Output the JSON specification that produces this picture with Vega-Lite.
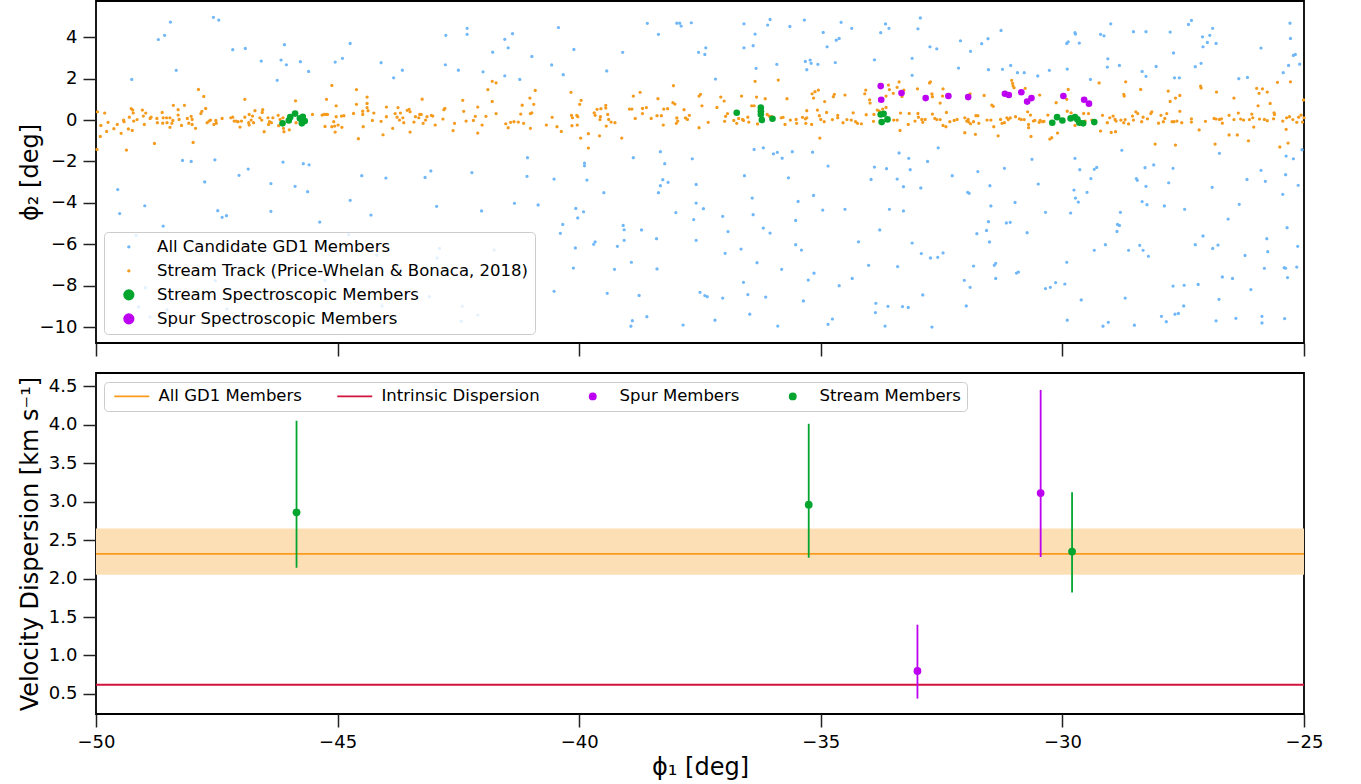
{
  "$schema": "https://vega.github.io/schema/vega-lite/v6.json",
  "padding": {"left": 17, "top": 0, "right": 5, "bottom": 5},
  "spacing": 14,
  "background": "white",
  "config": {
    "font": "DejaVu Sans",
    "view": {"stroke": "#000", "strokeWidth": 1.8},
    "axis": {"domain": false, "grid": false, "tickColor": "#222", "tickWidth": 1.5, "tickSize": 13, "labelFont": "DejaVu Sans", "labelFontSize": 18, "labelColor": "#000", "titleFont": "DejaVu Sans", "titleFontSize": 24, "titleFontWeight": "normal", "titleColor": "#000", "labelPadding": 6, "labelFlush": false, "labelOverlap": false},
    "legend": {"labelFont": "DejaVu Sans", "labelColor": "#000", "labelLimit": 0}
  },
  "datasets": {
    "top": [
      {"s":"b","x":-48.46,"y":4.73},{"s":"b","x":-48.71,"y":3.89},{"s":"b","x":-48.58,"y":4.09},{"s":"b","x":-49.26,"y":1.96},{"s":"b","x":-48.34,"y":2.4},{"s":"b","x":-47.57,"y":4.96},{"s":"b","x":-47.46,"y":4.83},{"s":"b","x":-47.17,"y":3.4},{"s":"b","x":-46.91,"y":3.46},{"s":"b","x":-46.58,"y":2.85},{"s":"b","x":-46.25,"y":1.92},{"s":"b","x":-46.1,"y":3.64},{"s":"b","x":-46.17,"y":2.9},{"s":"b","x":-46.06,"y":2.67},{"s":"b","x":-45.77,"y":2.82},{"s":"b","x":-45.6,"y":2.35},{"s":"b","x":-45.05,"y":2.8},{"s":"b","x":-44.9,"y":2.98},{"s":"b","x":-44.74,"y":3.7},{"s":"b","x":-44.1,"y":2.77},{"s":"b","x":-43.84,"y":2.04},{"s":"b","x":-43.66,"y":2.41},{"s":"b","x":-42.77,"y":2.67},{"s":"b","x":-42.76,"y":4.09},{"s":"b","x":-42.5,"y":2.41},{"s":"b","x":-42.32,"y":4.43},{"s":"b","x":-42.32,"y":4.14},{"s":"b","x":-41.99,"y":2.33},{"s":"b","x":-41.79,"y":3.28},
      {"s":"b","x":-41.54,"y":3.9},{"s":"b","x":-41.38,"y":4.17},{"s":"b","x":-41.47,"y":3.49},{"s":"b","x":-41.54,"y":2.14},{"s":"b","x":-41.23,"y":1.96},{"s":"b","x":-40.98,"y":3.07},{"s":"b","x":-40.43,"y":4.47},{"s":"b","x":-40.57,"y":2.66},{"s":"b","x":-40.33,"y":2.19},{"s":"b","x":-40.11,"y":3.41},{"s":"b","x":-39.43,"y":2.37},{"s":"b","x":-39.1,"y":3.27},{"s":"b","x":-38.59,"y":4.67},{"s":"b","x":-38.36,"y":4.14},{"s":"b","x":-37.98,"y":4.68},{"s":"b","x":-37.92,"y":4.68},{"s":"b","x":-37.89,"y":4.54},{"s":"b","x":-37.68,"y":4.7},{"s":"b","x":-37.53,"y":3.27},{"s":"b","x":-37.4,"y":3.17},{"s":"b","x":-37.38,"y":3.49},{"s":"b","x":-37.18,"y":1.98},{"s":"b","x":-36.59,"y":4.65},{"s":"b","x":-36.59,"y":3.49},{"s":"b","x":-36.4,"y":3.59},{"s":"b","x":-36.36,"y":4.15},{"s":"b","x":-36.34,"y":2.5},{"s":"b","x":-36.1,"y":4.59},{"s":"b","x":-36.05,"y":4.86},{"s":"b","x":-35.91,"y":2.69},{"s":"b","x":-35.64,"y":4.52},{"s":"b","x":-35.34,"y":4.83},{"s":"b","x":-35.32,"y":2.83},{"s":"b","x":-35.29,"y":2.43},{"s":"b","x":-35.22,"y":2.9},{"s":"b","x":-35.2,"y":2.74},{"s":"b","x":-35.06,"y":2.69},{"s":"b","x":-34.95,"y":4.23},{"s":"b","x":-34.87,"y":3.54},{"s":"b","x":-34.7,"y":2.78},{"s":"b","x":-34.68,"y":3.86},{"s":"b","x":-34.62,"y":3.94},{"s":"b","x":-34.58,"y":4.72},{"s":"b","x":-34.36,"y":4.43},{"s":"b","x":-33.89,"y":2.91},{"s":"b","x":-33.76,"y":4.22},{"s":"b","x":-33.66,"y":4.64},{"s":"b","x":-33.59,"y":4.43},{"s":"b","x":-36.38,"y":-1.42},{"s":"b","x":-36.19,"y":-1.34},
      {"s":"b","x":-32.94,"y":4.93},{"s":"b","x":-32.99,"y":4.41},{"s":"b","x":-33.11,"y":2.98},{"s":"b","x":-33.11,"y":2.16},{"s":"b","x":-32.74,"y":3.54},{"s":"b","x":-32.6,"y":3.44},{"s":"b","x":-32.11,"y":3.83},{"s":"b","x":-31.9,"y":3.32},{"s":"b","x":-31.67,"y":3.69},{"s":"b","x":-31.54,"y":3.93},{"s":"b","x":-31.27,"y":4.33},{"s":"b","x":-32.15,"y":2.51},{"s":"b","x":-31.53,"y":2.43},{"s":"b","x":-31.24,"y":2.45},{"s":"b","x":-31.07,"y":2.64},{"s":"b","x":-30.93,"y":2.29},{"s":"b","x":-30.79,"y":2.29},{"s":"b","x":-30.51,"y":2.13},{"s":"b","x":-30.27,"y":2.4},{"s":"b","x":-29.9,"y":2.46},{"s":"b","x":-29.91,"y":3.7},{"s":"b","x":-29.88,"y":3.78},{"s":"b","x":-29.74,"y":4.22},{"s":"b","x":-29.73,"y":4.15},{"s":"b","x":-29.65,"y":3.72},{"s":"b","x":-29.42,"y":1.96},{"s":"b","x":-29.21,"y":4.14},{"s":"b","x":-29.14,"y":4.07},{"s":"b","x":-29.0,"y":4.65},{"s":"b","x":-29.06,"y":2.96},{"s":"b","x":-29.07,"y":2.56},{"s":"b","x":-28.82,"y":2.64},{"s":"b","x":-28.53,"y":4.27},{"s":"b","x":-28.27,"y":4.27},{"s":"b","x":-28.35,"y":2.35},{"s":"b","x":-28.27,"y":2.11},{"s":"b","x":-28.06,"y":2.59},{"s":"b","x":-27.77,"y":4.25},{"s":"b","x":-27.7,"y":3.24},{"s":"b","x":-27.68,"y":2.04},{"s":"b","x":-27.58,"y":2.04},{"s":"b","x":-27.39,"y":4.62},{"s":"b","x":-27.33,"y":4.81},{"s":"b","x":-27.25,"y":2.58},{"s":"b","x":-27.13,"y":2.74},{"s":"b","x":-27.1,"y":4.02},{"s":"b","x":-27.09,"y":3.54},{"s":"b","x":-27.0,"y":3.75},{"s":"b","x":-26.95,"y":4.09},{"s":"b","x":-26.89,"y":4.43},{"s":"b","x":-26.82,"y":3.7},{"s":"b","x":-26.35,"y":2.0},{"s":"b","x":-26.17,"y":2.06},{"s":"b","x":-25.89,"y":3.48},{"s":"b","x":-25.43,"y":2.29},{"s":"b","x":-25.32,"y":2.64},{"s":"b","x":-25.29,"y":4.68},{"s":"b","x":-25.28,"y":3.94},{"s":"b","x":-25.22,"y":3.12},{"s":"b","x":-25.18,"y":3.17},{"s":"b","x":-25.09,"y":2.7},{"s":"b","x":-25.04,"y":-1.43},{"s":"b","x":-28.77,"y":-1.46},{"s":"b","x":-32.57,"y":-1.34},
      {"s":"b","x":-48.21,"y":-1.95},{"s":"b","x":-48.03,"y":-2.0},{"s":"b","x":-47.54,"y":-1.92},{"s":"b","x":-46.13,"y":-2.03},{"s":"b","x":-45.71,"y":-2.11},{"s":"b","x":-45.59,"y":-2.16},{"s":"b","x":-46.85,"y":-2.37},{"s":"b","x":-47.04,"y":-2.67},{"s":"b","x":-47.75,"y":-2.99},{"s":"b","x":-46.38,"y":-3.07},{"s":"b","x":-45.88,"y":-3.2},{"s":"b","x":-45.62,"y":-3.46},{"s":"b","x":-49.55,"y":-3.36},{"s":"b","x":-48.99,"y":-4.14},{"s":"b","x":-49.51,"y":-4.52},{"s":"b","x":-47.48,"y":-4.38},{"s":"b","x":-47.39,"y":-4.7},{"s":"b","x":-47.3,"y":-4.62},{"s":"b","x":-46.38,"y":-4.41},{"s":"b","x":-45.37,"y":-4.93},{"s":"b","x":-48.61,"y":-5.12},{"s":"b","x":-44.74,"y":-3.88},{"s":"b","x":-44.5,"y":-2.69},{"s":"b","x":-44.0,"y":-2.8},{"s":"b","x":-43.19,"y":-2.77},{"s":"b","x":-43.07,"y":-2.46},{"s":"b","x":-42.22,"y":-2.54},{"s":"b","x":-42.95,"y":-4.17},{"s":"b","x":-44.31,"y":-4.59},{"s":"b","x":-42.02,"y":-4.39},
      {"s":"b","x":-49.17,"y":-5.57},{"s":"b","x":-44.77,"y":-5.54},{"s":"b","x":-42.89,"y":-6.2},{"s":"b","x":-42.94,"y":-6.66},{"s":"b","x":-41.76,"y":-6.28},{"s":"b","x":-44.19,"y":-6.53},{"s":"b","x":-47.53,"y":-7.76},{"s":"b","x":-48.98,"y":-8.1},{"s":"b","x":-48.53,"y":-9.16},{"s":"b","x":-47.29,"y":-9.13},{"s":"b","x":-48.88,"y":-9.51},{"s":"b","x":-42.42,"y":-9.0},{"s":"b","x":-44.08,"y":-8.98},{"s":"b","x":-42.1,"y":-9.42},{"s":"b","x":-42.44,"y":-9.72},{"s":"b","x":-45.26,"y":-7.74},{"s":"b","x":-43.1,"y":-8.53},{"s":"b","x":-49.12,"y":-9.03},
      {"s":"b","x":-41.07,"y":-1.82},{"s":"b","x":-39.89,"y":-2.08},{"s":"b","x":-39.89,"y":-2.21},{"s":"b","x":-38.88,"y":-1.82},{"s":"b","x":-38.32,"y":-1.53},{"s":"b","x":-37.66,"y":-1.87},{"s":"b","x":-38.23,"y":-2.11},{"s":"b","x":-41.08,"y":-2.72},{"s":"b","x":-40.52,"y":-2.85},{"s":"b","x":-39.84,"y":-2.9},{"s":"b","x":-39.49,"y":-3.51},{"s":"b","x":-38.27,"y":-2.88},{"s":"b","x":-38.32,"y":-3.17},{"s":"b","x":-38.16,"y":-3.01},{"s":"b","x":-38.36,"y":-3.51},{"s":"b","x":-37.58,"y":-3.11},{"s":"b","x":-36.58,"y":-2.69},{"s":"b","x":-35.98,"y":-1.63},{"s":"b","x":-35.9,"y":-1.56},{"s":"b","x":-35.8,"y":-1.84},{"s":"b","x":-35.59,"y":-1.53},{"s":"b","x":-35.17,"y":-1.55},{"s":"b","x":-34.85,"y":-2.22},{"s":"b","x":-33.89,"y":-2.27},{"s":"b","x":-33.64,"y":-2.35},{"s":"b","x":-33.96,"y":-2.87},{"s":"b","x":-33.42,"y":-2.85},{"s":"b","x":-33.38,"y":-1.59},{"s":"b","x":-41.34,"y":-4.02},{"s":"b","x":-40.85,"y":-4.1},{"s":"b","x":-40.07,"y":-4.27},{"s":"b","x":-39.91,"y":-4.43},{"s":"b","x":-40.03,"y":-4.73},{"s":"b","x":-40.34,"y":-5.04},{"s":"b","x":-40.39,"y":-5.47},{"s":"b","x":-38.0,"y":-4.47},{"s":"b","x":-37.58,"y":-4.01},{"s":"b","x":-37.43,"y":-4.28},{"s":"b","x":-37.63,"y":-4.81},{"s":"b","x":-37.03,"y":-4.65},{"s":"b","x":-36.92,"y":-5.39},{"s":"b","x":-36.42,"y":-3.77},{"s":"b","x":-36.4,"y":-4.57},{"s":"b","x":-36.19,"y":-5.22},{"s":"b","x":-36.05,"y":-5.46},{"s":"b","x":-35.67,"y":-2.79},{"s":"b","x":-35.47,"y":-3.93},{"s":"b","x":-35.15,"y":-3.64},{"s":"b","x":-34.96,"y":-4.35},{"s":"b","x":-34.5,"y":-4.31},{"s":"b","x":-33.58,"y":-4.31},{"s":"b","x":-35.52,"y":-4.85},{"s":"b","x":-33.78,"y":-5.31},{"s":"b","x":-34.22,"y":-5.88},{"s":"b","x":-39.09,"y":-5.09},{"s":"b","x":-39.07,"y":-5.3},{"s":"b","x":-38.71,"y":-5.31},{"s":"b","x":-38.4,"y":-5.73},{"s":"b","x":-40.08,"y":-6.18},{"s":"b","x":-39.7,"y":-6.0},{"s":"b","x":-39.67,"y":-5.88},{"s":"b","x":-39.21,"y":-6.1},{"s":"b","x":-39.07,"y":-5.81},{"s":"b","x":-37.58,"y":-5.81},{"s":"b","x":-36.98,"y":-6.44},{"s":"b","x":-36.65,"y":-6.23},{"s":"b","x":-36.32,"y":-6.89},{"s":"b","x":-35.52,"y":-6.02},{"s":"b","x":-35.4,"y":-6.28},{"s":"b","x":-40.12,"y":-7.15},{"s":"b","x":-39.27,"y":-7.21},{"s":"b","x":-38.92,"y":-6.87},{"s":"b","x":-38.39,"y":-7.19},{"s":"b","x":-35.81,"y":-7.21},{"s":"b","x":-35.14,"y":-7.4},{"s":"b","x":-35.26,"y":-7.73},{"s":"b","x":-34.35,"y":-7.65},{"s":"b","x":-34.01,"y":-7.02},{"s":"b","x":-33.41,"y":-7.08},{"s":"b","x":-34.62,"y":-8.0},{"s":"b","x":-40.52,"y":-8.27},{"s":"b","x":-39.42,"y":-8.37},{"s":"b","x":-38.76,"y":-8.47},{"s":"b","x":-37.5,"y":-8.32},{"s":"b","x":-37.4,"y":-8.48},{"s":"b","x":-37.35,"y":-8.53},{"s":"b","x":-37.03,"y":-8.6},{"s":"b","x":-36.6,"y":-7.84},{"s":"b","x":-36.51,"y":-8.43},{"s":"b","x":-36.14,"y":-8.55},{"s":"b","x":-35.36,"y":-8.74},{"s":"b","x":-33.86,"y":-8.85},{"s":"b","x":-33.61,"y":-9.0},{"s":"b","x":-33.87,"y":-9.3},{"s":"b","x":-38.6,"y":-9.5},{"s":"b","x":-38.9,"y":-9.69},{"s":"b","x":-38.93,"y":-9.96},{"s":"b","x":-37.85,"y":-9.9},{"s":"b","x":-37.19,"y":-9.67},{"s":"b","x":-36.47,"y":-9.38},{"s":"b","x":-35.89,"y":-9.95},{"s":"b","x":-34.85,"y":-9.87},{"s":"b","x":-34.76,"y":-9.61},{"s":"b","x":-33.67,"y":-9.95},
      {"s":"b","x":-33.18,"y":-1.85},{"s":"b","x":-32.79,"y":-2.0},{"s":"b","x":-33.15,"y":-2.4},{"s":"b","x":-33.29,"y":-3.22},{"s":"b","x":-32.93,"y":-3.28},{"s":"b","x":-33.29,"y":-4.39},{"s":"b","x":-32.28,"y":-2.69},{"s":"b","x":-31.75,"y":-2.49},{"s":"b","x":-31.2,"y":-2.33},{"s":"b","x":-30.63,"y":-1.9},{"s":"b","x":-31.96,"y":-3.49},{"s":"b","x":-31.93,"y":-3.54},{"s":"b","x":-31.5,"y":-3.17},{"s":"b","x":-30.98,"y":-3.98},{"s":"b","x":-31.48,"y":-4.15},{"s":"b","x":-30.5,"y":-3.09},{"s":"b","x":-30.35,"y":-4.46},{"s":"b","x":-31.53,"y":-4.91},{"s":"b","x":-31.16,"y":-4.97},{"s":"b","x":-31.08,"y":-4.94},{"s":"b","x":-31.57,"y":-5.33},{"s":"b","x":-31.77,"y":-5.49},{"s":"b","x":-31.51,"y":-5.89},{"s":"b","x":-30.73,"y":-5.44},{"s":"b","x":-33.11,"y":-5.94},{"s":"b","x":-32.92,"y":-6.45},{"s":"b","x":-32.73,"y":-6.66},{"s":"b","x":-32.58,"y":-6.63},{"s":"b","x":-32.47,"y":-6.42},{"s":"b","x":-31.84,"y":-7.05},{"s":"b","x":-31.41,"y":-7.02},{"s":"b","x":-31.38,"y":-6.92},{"s":"b","x":-31.38,"y":-7.65},{"s":"b","x":-30.95,"y":-7.39},{"s":"b","x":-30.91,"y":-7.34},{"s":"b","x":-32.03,"y":-7.74},{"s":"b","x":-31.91,"y":-8.08},{"s":"b","x":-32.89,"y":-8.45},{"s":"b","x":-33.31,"y":-9.01},{"s":"b","x":-33.19,"y":-9.05},{"s":"b","x":-31.99,"y":-8.98},{"s":"b","x":-32.7,"y":-10.0},{"s":"b","x":-30.35,"y":-8.14},{"s":"b","x":-30.25,"y":-8.08},{"s":"b","x":-30.14,"y":-7.85},{"s":"b","x":-29.95,"y":-7.92},{"s":"b","x":-29.91,"y":-6.87},{"s":"b","x":-29.61,"y":-8.69},{"s":"b","x":-29.9,"y":-9.67},{"s":"b","x":-29.16,"y":-9.96},{"s":"b","x":-29.05,"y":-9.77},{"s":"b","x":-29.74,"y":-1.85},{"s":"b","x":-29.64,"y":-2.4},{"s":"b","x":-29.34,"y":-2.38},{"s":"b","x":-29.29,"y":-2.29},{"s":"b","x":-29.41,"y":-2.83},{"s":"b","x":-29.76,"y":-3.38},{"s":"b","x":-29.73,"y":-3.77},{"s":"b","x":-29.67,"y":-3.96},{"s":"b","x":-29.49,"y":-3.49},{"s":"b","x":-29.83,"y":-4.49},{"s":"b","x":-28.8,"y":-4.46},{"s":"b","x":-28.86,"y":-5.04},{"s":"b","x":-28.82,"y":-5.09},{"s":"b","x":-28.87,"y":-5.38},{"s":"b","x":-29.34,"y":-6.29},{"s":"b","x":-29.11,"y":-6.02},{"s":"b","x":-28.63,"y":-6.29},{"s":"b","x":-28.4,"y":-6.05},{"s":"b","x":-28.33,"y":-6.29},{"s":"b","x":-28.22,"y":-6.58},{"s":"b","x":-28.47,"y":-2.83},{"s":"b","x":-28.45,"y":-2.91},{"s":"b","x":-28.27,"y":-3.2},{"s":"b","x":-28.29,"y":-2.3},{"s":"b","x":-28.11,"y":-2.17},{"s":"b","x":-27.71,"y":-2.33},{"s":"b","x":-27.8,"y":-3.03},{"s":"b","x":-28.35,"y":-3.94},{"s":"b","x":-28.25,"y":-4.09},{"s":"b","x":-27.89,"y":-4.15},{"s":"b","x":-27.47,"y":-4.31},{"s":"b","x":-28.7,"y":-8.6},{"s":"b","x":-27.95,"y":-9.48},{"s":"b","x":-27.85,"y":-9.74},{"s":"b","x":-27.67,"y":-9.38},{"s":"b","x":-27.6,"y":-9.34},{"s":"b","x":-27.49,"y":-8.98},{"s":"b","x":-28.51,"y":-9.91},{"s":"b","x":-27.71,"y":-8.02},{"s":"b","x":-27.48,"y":-7.98},{"s":"b","x":-27.19,"y":-7.94},{"s":"b","x":-27.25,"y":-6.02},{"s":"b","x":-27.09,"y":-5.6},{"s":"b","x":-26.89,"y":-6.2},{"s":"b","x":-26.78,"y":-6.04},{"s":"b","x":-26.9,"y":-3.25},{"s":"b","x":-26.75,"y":-1.61},{"s":"b","x":-26.57,"y":-4.78},{"s":"b","x":-26.34,"y":-4.07},{"s":"b","x":-26.18,"y":-2.87},{"s":"b","x":-25.89,"y":-2.43},{"s":"b","x":-25.8,"y":-2.96},{"s":"b","x":-25.37,"y":-1.74},{"s":"b","x":-25.22,"y":-1.87},{"s":"b","x":-25.38,"y":-2.64},{"s":"b","x":-25.12,"y":-3.15},{"s":"b","x":-25.44,"y":-3.59},{"s":"b","x":-25.35,"y":-5.2},{"s":"b","x":-25.77,"y":-5.73},{"s":"b","x":-25.75,"y":-6.36},{"s":"b","x":-26.22,"y":-6.54},{"s":"b","x":-25.82,"y":-7.16},{"s":"b","x":-25.41,"y":-7.13},{"s":"b","x":-25.38,"y":-7.16},{"s":"b","x":-25.15,"y":-7.1},{"s":"b","x":-25.34,"y":-7.61},{"s":"b","x":-25.13,"y":-6.1},{"s":"b","x":-26.69,"y":-7.58},{"s":"b","x":-26.48,"y":-7.65},{"s":"b","x":-26.1,"y":-8.19},{"s":"b","x":-26.76,"y":-8.66},{"s":"b","x":-26.82,"y":-9.7},{"s":"b","x":-26.41,"y":-9.58},{"s":"b","x":-25.87,"y":-9.48},{"s":"b","x":-25.87,"y":-9.8},{"s":"b","x":-25.4,"y":-9.59},
      {"s":"o","x":-49.97,"y":0.4},{"s":"o","x":-49.82,"y":0.34},{"s":"o","x":-49.9,"y":-0.26},{"s":"o","x":-49.91,"y":-0.79},{"s":"o","x":-49.98,"y":-1.42},{"s":"o","x":-49.75,"y":-0.11},{"s":"o","x":-49.78,"y":-0.55},{"s":"o","x":-49.63,"y":-0.42},{"s":"o","x":-49.56,"y":-0.21},{"s":"o","x":-49.48,"y":-0.64},{"s":"o","x":-49.43,"y":0.0},{"s":"o","x":-49.42,"y":-0.08},{"s":"o","x":-49.37,"y":-1.45},{"s":"o","x":-49.33,"y":-0.43},{"s":"o","x":-49.31,"y":0.14},{"s":"o","x":-49.27,"y":0.55},{"s":"o","x":-49.24,"y":0.48},{"s":"o","x":-49.23,"y":0.34},{"s":"o","x":-49.25,"y":-0.5},{"s":"o","x":-49.22,"y":-0.05},{"s":"o","x":-49.15,"y":0.02},{"s":"o","x":-49.04,"y":0.48},{"s":"o","x":-49.02,"y":0.19},{"s":"o","x":-48.97,"y":0.34},{"s":"o","x":-49.0,"y":-0.21},{"s":"o","x":-48.88,"y":0.08},{"s":"o","x":-48.86,"y":0.14},{"s":"o","x":-48.79,"y":-1.13},{"s":"o","x":-48.74,"y":0.08},{"s":"o","x":-48.73,"y":-0.13},{"s":"o","x":-48.63,"y":0.37},{"s":"o","x":-48.61,"y":0.11},{"s":"o","x":-48.62,"y":-0.15},{"s":"o","x":-48.53,"y":-0.13},{"s":"o","x":-48.54,"y":0.11},{"s":"o","x":-48.47,"y":0.11},{"s":"o","x":-48.47,"y":-0.35},{"s":"o","x":-48.43,"y":-0.16},{"s":"o","x":-48.41,"y":-0.02},{"s":"o","x":-48.4,"y":0.71},{"s":"o","x":-48.3,"y":0.5},{"s":"o","x":-48.3,"y":0.24},{"s":"o","x":-48.28,"y":0.03},{"s":"o","x":-48.23,"y":-0.26},{"s":"o","x":-48.17,"y":0.71},{"s":"o","x":-48.11,"y":0.08},{"s":"o","x":-48.08,"y":-0.15},{"s":"o","x":-48.03,"y":0.18},{"s":"o","x":-48.01,"y":0.03},{"s":"o","x":-48.01,"y":-0.21},{"s":"o","x":-47.99,"y":-1.08},{"s":"o","x":-47.94,"y":-0.4},{"s":"o","x":-47.88,"y":1.48},{"s":"o","x":-47.83,"y":0.31},{"s":"o","x":-47.81,"y":0.42},{"s":"o","x":-47.77,"y":1.14},{"s":"o","x":-47.73,"y":0.56},{"s":"o","x":-47.7,"y":-0.13},{"s":"o","x":-47.66,"y":-0.05},{"s":"o","x":-47.63,"y":0.0},{"s":"o","x":-47.56,"y":-0.21},{"s":"o","x":-47.52,"y":-0.02},{"s":"o","x":-47.51,"y":-0.15},{"s":"o","x":-47.39,"y":0.08},{"s":"o","x":-47.21,"y":0.11},{"s":"o","x":-47.17,"y":0.14},{"s":"o","x":-47.14,"y":-0.05},{"s":"o","x":-47.1,"y":-0.05},{"s":"o","x":-47.06,"y":-0.08},{"s":"o","x":-47.02,"y":-0.34},{"s":"o","x":-46.99,"y":-0.05},{"s":"o","x":-46.92,"y":1.0},{"s":"o","x":-46.92,"y":0.14},{"s":"o","x":-46.83,"y":0.27},{"s":"o","x":-46.84,"y":-0.13},{"s":"o","x":-46.83,"y":-0.24},{"s":"o","x":-46.79,"y":0.0},{"s":"o","x":-46.76,"y":0.19},{"s":"o","x":-46.74,"y":-0.13},{"s":"o","x":-46.71,"y":0.45},{"s":"o","x":-46.61,"y":0.11},{"s":"o","x":-46.57,"y":0.0},{"s":"o","x":-46.55,"y":0.5},{"s":"o","x":-46.56,"y":0.37},{"s":"o","x":-46.52,"y":-0.56},{"s":"o","x":-46.44,"y":0.11},{"s":"o","x":-46.43,"y":-0.21},{"s":"o","x":-46.41,"y":-0.08},{"s":"o","x":-46.37,"y":-0.13},{"s":"o","x":-46.34,"y":0.11},{"s":"o","x":-46.23,"y":0.23},{"s":"o","x":-46.22,"y":-0.27},{"s":"o","x":-46.19,"y":0.03},{"s":"o","x":-46.13,"y":0.11},{"s":"o","x":-46.12,"y":-0.4},{"s":"o","x":-46.11,"y":-0.56},{"s":"o","x":-46.0,"y":-0.47},{"s":"o","x":-45.87,"y":0.93},{"s":"o","x":-45.86,"y":-0.13},{"s":"o","x":-45.52,"y":0.27},{"s":"o","x":-45.32,"y":0.24},{"s":"o","x":-45.28,"y":0.27},{"s":"o","x":-45.26,"y":-0.31},{"s":"o","x":-45.24,"y":0.27},{"s":"o","x":-45.21,"y":0.27},{"s":"o","x":-45.23,"y":1.0},{"s":"o","x":-45.12,"y":1.67},{"s":"o","x":-45.12,"y":-0.32},{"s":"o","x":-45.08,"y":-0.08},{"s":"o","x":-45.06,"y":-0.29},{"s":"o","x":-45.05,"y":-0.58},{"s":"o","x":-45.03,"y":0.69},{"s":"o","x":-45.03,"y":0.16},{"s":"o","x":-44.99,"y":-0.24},{"s":"o","x":-44.92,"y":0.19},{"s":"o","x":-44.91,"y":-0.35},{"s":"o","x":-44.87,"y":0.21},{"s":"o","x":-44.67,"y":0.32},{"s":"o","x":-44.61,"y":1.47},{"s":"o","x":-44.61,"y":0.76},{"s":"o","x":-44.57,"y":-0.9},{"s":"o","x":-44.48,"y":0.43},{"s":"o","x":-44.48,"y":0.27},{"s":"o","x":-44.47,"y":-0.32},{"s":"o","x":-44.39,"y":1.11},{"s":"o","x":-44.39,"y":0.8},{"s":"o","x":-44.39,"y":0.6},{"s":"o","x":-44.37,"y":0.45},{"s":"o","x":-44.28,"y":-0.02},{"s":"o","x":-44.25,"y":0.34},{"s":"o","x":-44.1,"y":-0.06},{"s":"o","x":-44.06,"y":-0.71},{"s":"o","x":-43.99,"y":0.63},{"s":"o","x":-43.99,"y":0.16},{"s":"o","x":-43.86,"y":-0.4},{"s":"o","x":-43.81,"y":0.31},{"s":"o","x":-43.75,"y":0.6},{"s":"o","x":-43.77,"y":0.14},{"s":"o","x":-43.72,"y":0.0},{"s":"o","x":-43.7,"y":0.34},
      {"s":"o","x":-43.65,"y":0.11},{"s":"o","x":-43.63,"y":-0.13},{"s":"o","x":-43.56,"y":0.47},{"s":"o","x":-43.52,"y":0.52},{"s":"o","x":-43.5,"y":-0.58},{"s":"o","x":-43.5,"y":0.4},{"s":"o","x":-43.42,"y":-0.1},{"s":"o","x":-43.39,"y":0.16},{"s":"o","x":-43.32,"y":0.11},{"s":"o","x":-43.3,"y":0.27},{"s":"o","x":-43.27,"y":0.27},{"s":"o","x":-43.25,"y":1.01},{"s":"o","x":-43.23,"y":-0.16},{"s":"o","x":-43.18,"y":0.0},{"s":"o","x":-43.15,"y":0.16},{"s":"o","x":-43.06,"y":0.23},{"s":"o","x":-43.03,"y":0.19},{"s":"o","x":-42.98,"y":-0.24},{"s":"o","x":-42.82,"y":0.05},{"s":"o","x":-42.8,"y":0.5},{"s":"o","x":-42.78,"y":0.56},{"s":"o","x":-42.61,"y":-0.51},{"s":"o","x":-42.58,"y":-0.16},{"s":"o","x":-42.41,"y":0.95},{"s":"o","x":-42.39,"y":0.42},{"s":"o","x":-42.34,"y":-0.05},{"s":"o","x":-42.19,"y":-0.02},{"s":"o","x":-42.15,"y":0.18},{"s":"o","x":-42.1,"y":0.63},{"s":"o","x":-42.1,"y":-0.63},{"s":"o","x":-42.01,"y":-0.24},{"s":"o","x":-41.93,"y":0.18},{"s":"o","x":-41.89,"y":1.47},{"s":"o","x":-41.8,"y":1.87},{"s":"o","x":-41.8,"y":0.9},{"s":"o","x":-41.72,"y":1.8},{"s":"o","x":-41.72,"y":0.31},{"s":"o","x":-41.52,"y":-0.18},{"s":"o","x":-41.47,"y":-0.37},{"s":"o","x":-41.42,"y":-0.11},{"s":"o","x":-41.35,"y":-0.08},{"s":"o","x":-41.26,"y":-0.1},{"s":"o","x":-41.21,"y":0.29},{"s":"o","x":-41.18,"y":0.72},{"s":"o","x":-41.15,"y":-0.16},{"s":"o","x":-41.02,"y":1.06},{"s":"o","x":-41.01,"y":0.31},{"s":"o","x":-41.01,"y":-0.4},{"s":"o","x":-40.98,"y":0.35},{"s":"o","x":-40.94,"y":0.76},{"s":"o","x":-40.91,"y":1.43},{"s":"o","x":-40.68,"y":-0.24},{"s":"o","x":-40.56,"y":0.13},{"s":"o","x":-40.46,"y":-0.32},{"s":"o","x":-40.37,"y":-0.55},{"s":"o","x":-40.17,"y":1.34},{"s":"o","x":-40.16,"y":0.23},{"s":"o","x":-40.14,"y":0.11},{"s":"o","x":-40.15,"y":-0.27},{"s":"o","x":-40.04,"y":-0.24},{"s":"o","x":-40.05,"y":0.23},{"s":"o","x":-40.03,"y":0.16},{"s":"o","x":-39.99,"y":0.76},{"s":"o","x":-39.96,"y":0.95},{"s":"o","x":-39.97,"y":-0.87},{"s":"o","x":-39.81,"y":-0.66},{"s":"o","x":-39.81,"y":-1.35},{"s":"o","x":-39.69,"y":0.35},{"s":"o","x":-39.67,"y":0.23},{"s":"o","x":-39.63,"y":0.52},{"s":"o","x":-39.56,"y":0.16},{"s":"o","x":-39.57,"y":0.02},{"s":"o","x":-39.58,"y":-0.76},{"s":"o","x":-39.55,"y":0.55},{"s":"o","x":-39.45,"y":0.71},{"s":"o","x":-39.45,"y":0.58},{"s":"o","x":-39.44,"y":-0.29},{"s":"o","x":-39.41,"y":0.27},{"s":"o","x":-39.39,"y":0.03},{"s":"o","x":-39.34,"y":-0.1},{"s":"o","x":-39.26,"y":-0.13},{"s":"o","x":-39.12,"y":-0.87},{"s":"o","x":-38.96,"y":0.53},{"s":"o","x":-38.91,"y":0.53},{"s":"o","x":-38.88,"y":1.16},{"s":"o","x":-38.84,"y":0.08},{"s":"o","x":-38.74,"y":1.34},{"s":"o","x":-38.69,"y":0.56},{"s":"o","x":-38.69,"y":0.31},{"s":"o","x":-38.61,"y":0.6},{"s":"o","x":-38.51,"y":0.08},{"s":"o","x":-38.39,"y":0.21},{"s":"o","x":-38.37,"y":1.03},{"s":"o","x":-38.3,"y":0.21},{"s":"o","x":-38.26,"y":-0.24},{"s":"o","x":-38.25,"y":0.53},{"s":"o","x":-38.17,"y":0.55},{"s":"o","x":-38.06,"y":0.84},{"s":"o","x":-38.05,"y":1.66},{"s":"o","x":-38.02,"y":0.77},{"s":"o","x":-37.98,"y":0.1},{"s":"o","x":-37.96,"y":-0.05},{"s":"o","x":-37.99,"y":-0.16},{"s":"o","x":-37.83,"y":0.5},{"s":"o","x":-37.8,"y":0.1},{"s":"o","x":-37.76,"y":0.03},{"s":"o","x":-37.72,"y":0.23},{"s":"o","x":-37.52,"y":-0.37},{"s":"o","x":-37.52,"y":1.16},{"s":"o","x":-37.49,"y":1.24},{"s":"o","x":-37.46,"y":0.69},
      {"s":"o","x":-37.33,"y":-0.11},{"s":"o","x":-37.15,"y":0.61},{"s":"o","x":-37.07,"y":1.11},{"s":"o","x":-37.0,"y":0.92},{"s":"o","x":-36.97,"y":0.18},{"s":"o","x":-36.93,"y":0.31},{"s":"o","x":-36.99,"y":-0.06},{"s":"o","x":-36.8,"y":-0.02},{"s":"o","x":-36.74,"y":-0.16},{"s":"o","x":-36.7,"y":0.08},{"s":"o","x":-36.64,"y":1.16},{"s":"o","x":-36.62,"y":0.03},{"s":"o","x":-36.6,"y":-0.02},{"s":"o","x":-36.49,"y":-0.1},{"s":"o","x":-36.51,"y":0.14},{"s":"o","x":-36.43,"y":0.69},{"s":"o","x":-36.38,"y":0.69},{"s":"o","x":-36.36,"y":1.87},{"s":"o","x":-36.33,"y":1.11},{"s":"o","x":-36.31,"y":-0.19},{"s":"o","x":-36.15,"y":1.03},{"s":"o","x":-36.11,"y":0.27},{"s":"o","x":-36.07,"y":0.19},{"s":"o","x":-36.02,"y":0.16},{"s":"o","x":-35.88,"y":1.93},{"s":"o","x":-35.82,"y":0.11},{"s":"o","x":-35.78,"y":0.13},{"s":"o","x":-35.74,"y":-0.21},{"s":"o","x":-35.7,"y":1.03},{"s":"o","x":-35.63,"y":0.0},{"s":"o","x":-35.51,"y":0.03},{"s":"o","x":-35.5,"y":-0.16},{"s":"o","x":-35.38,"y":0.13},{"s":"o","x":-35.32,"y":0.06},{"s":"o","x":-35.29,"y":0.11},{"s":"o","x":-35.29,"y":0.45},{"s":"o","x":-35.31,"y":-0.16},{"s":"o","x":-35.19,"y":-0.21},{"s":"o","x":-35.18,"y":1.27},{"s":"o","x":-35.15,"y":1.06},{"s":"o","x":-35.12,"y":1.37},{"s":"o","x":-35.05,"y":1.45},{"s":"o","x":-35.07,"y":0.48},{"s":"o","x":-35.03,"y":0.21},{"s":"o","x":-35.0,"y":0.03},{"s":"o","x":-35.02,"y":-0.87},{"s":"o","x":-34.93,"y":-0.08},{"s":"o","x":-34.92,"y":0.89},{"s":"o","x":-34.88,"y":0.37},{"s":"o","x":-34.76,"y":0.02},{"s":"o","x":-34.74,"y":1.13},{"s":"o","x":-34.72,"y":1.24},{"s":"o","x":-34.65,"y":0.23},{"s":"o","x":-34.65,"y":0.11},{"s":"o","x":-34.54,"y":-0.13},{"s":"o","x":-34.5,"y":1.21},{"s":"o","x":-34.46,"y":0.02},{"s":"o","x":-34.37,"y":0.0},{"s":"o","x":-34.33,"y":0.35},{"s":"o","x":-34.28,"y":-0.08},{"s":"o","x":-34.24,"y":-0.16},{"s":"o","x":-34.16,"y":-0.18},{"s":"o","x":-34.09,"y":1.27},{"s":"o","x":-34.06,"y":0.26},{"s":"o","x":-34.07,"y":1.45},{"s":"o","x":-33.99,"y":0.98},{"s":"o","x":-33.98,"y":0.82},{"s":"o","x":-33.91,"y":-0.06},{"s":"o","x":-33.9,"y":0.27},{"s":"o","x":-33.83,"y":0.48},{"s":"o","x":-33.79,"y":0.43},{"s":"o","x":-33.77,"y":-0.08},{"s":"o","x":-33.72,"y":0.53},{"s":"o","x":-33.65,"y":0.61},{"s":"o","x":-33.65,"y":1.16},{"s":"o","x":-33.6,"y":1.69},{"s":"o","x":-33.58,"y":1.47},{"s":"o","x":-33.5,"y":1.29},{"s":"o","x":-33.49,"y":0.0},{"s":"o","x":-33.42,"y":1.58},{"s":"o","x":-33.42,"y":0.0},{"s":"o","x":-33.38,"y":1.84},{"s":"o","x":-33.36,"y":-0.5},{"s":"o","x":-33.35,"y":0.34},{"s":"o","x":-33.32,"y":1.14},{"s":"o","x":-33.28,"y":1.45},{"s":"o","x":-33.19,"y":-0.21},{"s":"o","x":-33.17,"y":0.32},{"s":"o","x":-33.05,"y":-0.05},{"s":"o","x":-33.0,"y":1.51},{"s":"o","x":-32.99,"y":0.32},{"s":"o","x":-32.98,"y":0.14},{"s":"o","x":-32.91,"y":0.03},{"s":"o","x":-32.89,"y":-0.11},{"s":"o","x":-32.84,"y":0.03},{"s":"o","x":-32.75,"y":1.79},{"s":"o","x":-32.73,"y":1.85},{"s":"o","x":-32.7,"y":1.26},{"s":"o","x":-32.69,"y":0.29},{"s":"o","x":-32.69,"y":1.13},{"s":"o","x":-32.64,"y":0.08},{"s":"o","x":-32.6,"y":0.02},{"s":"o","x":-32.53,"y":0.82},{"s":"o","x":-32.53,"y":0.02},{"s":"o","x":-32.47,"y":1.51},{"s":"o","x":-32.48,"y":1.16},{"s":"o","x":-32.47,"y":-0.26},{"s":"o","x":-32.41,"y":-0.32},{"s":"o","x":-32.4,"y":0.37},{"s":"o","x":-32.33,"y":-0.08},{"s":"o","x":-32.24,"y":-0.02},{"s":"o","x":-32.18,"y":0.03},{"s":"o","x":-32.02,"y":0.11},{"s":"o","x":-32.02,"y":-0.61},{"s":"o","x":-31.98,"y":-0.05},{"s":"o","x":-31.95,"y":0.03},{"s":"o","x":-31.94,"y":-0.1},{"s":"o","x":-31.91,"y":1.27},{"s":"o","x":-31.9,"y":-0.18},{"s":"o","x":-31.84,"y":-0.08},{"s":"o","x":-31.8,"y":-0.69},{"s":"o","x":-31.79,"y":0.21},{"s":"o","x":-31.75,"y":0.21},{"s":"o","x":-31.73,"y":-0.16},{"s":"o","x":-31.62,"y":1.19},{"s":"o","x":-31.56,"y":0.0},{"s":"o","x":-31.48,"y":0.0},{"s":"o","x":-31.46,"y":0.72},{"s":"o","x":-31.43,"y":0.66},{"s":"o","x":-31.42,"y":-0.32},{"s":"o","x":-31.33,"y":-0.76},{"s":"o","x":-31.28,"y":0.03},{"s":"o","x":-31.25,"y":-0.16},{"s":"o","x":-31.2,"y":-0.13},
      {"s":"o","x":-31.05,"y":1.92},{"s":"o","x":-31.03,"y":1.77},{"s":"o","x":-31.02,"y":1.64},{"s":"o","x":-31.0,"y":1.56},{"s":"o","x":-30.77,"y":1.53},{"s":"o","x":-30.47,"y":1.21},{"s":"o","x":-29.88,"y":1.48},{"s":"o","x":-29.24,"y":1.79},{"s":"o","x":-28.69,"y":1.85},{"s":"o","x":-28.38,"y":1.48},{"s":"o","x":-28.73,"y":1.24},{"s":"o","x":-28.72,"y":1.16},{"s":"o","x":-27.77,"y":0.9},{"s":"o","x":-27.66,"y":1.06},{"s":"o","x":-27.57,"y":1.19},{"s":"o","x":-27.81,"y":1.4},{"s":"o","x":-27.14,"y":1.64},{"s":"o","x":-27.13,"y":1.55},{"s":"o","x":-26.81,"y":1.35},{"s":"o","x":-26.45,"y":1.06},{"s":"o","x":-25.98,"y":1.53},{"s":"o","x":-25.86,"y":1.51},{"s":"o","x":-25.93,"y":1.29},{"s":"o","x":-25.76,"y":1.35},{"s":"o","x":-25.95,"y":0.69},{"s":"o","x":-25.7,"y":0.8},{"s":"o","x":-25.62,"y":0.35},{"s":"o","x":-25.61,"y":0.27},{"s":"o","x":-25.55,"y":1.82},{"s":"o","x":-25.28,"y":1.85},{"s":"o","x":-25.01,"y":0.97},{"s":"o","x":-31.15,"y":0.11},{"s":"o","x":-31.12,"y":0.02},{"s":"o","x":-31.08,"y":0.1},{"s":"o","x":-30.97,"y":0.16},{"s":"o","x":-30.89,"y":0.06},{"s":"o","x":-30.85,"y":0.02},{"s":"o","x":-30.79,"y":0.02},{"s":"o","x":-30.7,"y":-0.21},{"s":"o","x":-30.7,"y":-0.37},{"s":"o","x":-30.72,"y":0.4},{"s":"o","x":-30.66,"y":0.24},{"s":"o","x":-30.65,"y":-0.79},{"s":"o","x":-30.6,"y":-0.05},{"s":"o","x":-30.57,"y":-0.02},{"s":"o","x":-30.48,"y":-0.11},{"s":"o","x":-30.46,"y":-0.02},{"s":"o","x":-30.41,"y":-0.08},{"s":"o","x":-30.38,"y":-0.06},{"s":"o","x":-30.3,"y":0.24},{"s":"o","x":-30.26,"y":-0.92},{"s":"o","x":-30.22,"y":-0.85},{"s":"o","x":-30.1,"y":-0.63},{"s":"o","x":-30.13,"y":0.84},{"s":"o","x":-29.91,"y":1.0},{"s":"o","x":-29.9,"y":0.43},{"s":"o","x":-29.82,"y":0.35},{"s":"o","x":-29.74,"y":-0.26},{"s":"o","x":-29.56,"y":0.32},{"s":"o","x":-29.53,"y":-0.05},{"s":"o","x":-29.46,"y":0.31},{"s":"o","x":-29.39,"y":0.0},{"s":"o","x":-29.21,"y":-0.53},{"s":"o","x":-29.17,"y":0.23},{"s":"o","x":-29.07,"y":-0.13},{"s":"o","x":-28.99,"y":-0.6},{"s":"o","x":-28.9,"y":-0.56},{"s":"o","x":-29.02,"y":0.11},{"s":"o","x":-28.95,"y":0.19},{"s":"o","x":-28.91,"y":0.03},{"s":"o","x":-28.89,"y":-0.05},{"s":"o","x":-28.79,"y":0.0},{"s":"o","x":-28.73,"y":-0.13},{"s":"o","x":-28.7,"y":0.02},{"s":"o","x":-28.63,"y":-0.19},{"s":"o","x":-28.55,"y":0.19},{"s":"o","x":-28.53,"y":0.0},{"s":"o","x":-28.48,"y":0.4},{"s":"o","x":-28.44,"y":0.31},{"s":"o","x":-28.36,"y":-0.08},{"s":"o","x":-28.33,"y":0.14},{"s":"o","x":-28.24,"y":0.06},{"s":"o","x":-28.17,"y":0.31},{"s":"o","x":-28.15,"y":0.4},{"s":"o","x":-28.08,"y":-1.16},{"s":"o","x":-28.01,"y":-0.15},{"s":"o","x":-27.96,"y":0.23},{"s":"o","x":-27.91,"y":-0.08},{"s":"o","x":-27.88,"y":0.08},{"s":"o","x":-27.84,"y":0.31},{"s":"o","x":-27.73,"y":-0.08},{"s":"o","x":-27.66,"y":-1.21},{"s":"o","x":-27.69,"y":-0.08},{"s":"o","x":-27.63,"y":-0.05},{"s":"o","x":-27.57,"y":0.42},{"s":"o","x":-27.53,"y":-0.13},{"s":"o","x":-27.33,"y":0.06},{"s":"o","x":-27.33,"y":-0.1},{"s":"o","x":-27.17,"y":-0.48},{"s":"o","x":-27.04,"y":-0.06},{"s":"o","x":-26.86,"y":0.08},{"s":"o","x":-26.84,"y":-1.16},{"s":"o","x":-26.82,"y":0.05},{"s":"o","x":-26.75,"y":0.03},{"s":"o","x":-26.71,"y":0.06},{"s":"o","x":-26.69,"y":-0.15},{"s":"o","x":-26.55,"y":-0.72},{"s":"o","x":-26.55,"y":0.23},{"s":"o","x":-26.45,"y":0.02},{"s":"o","x":-26.38,"y":-0.72},{"s":"o","x":-26.36,"y":0.34},{"s":"o","x":-26.31,"y":0.05},{"s":"o","x":-26.25,"y":0.0},{"s":"o","x":-26.15,"y":-1.0},{"s":"o","x":-26.13,"y":0.02},{"s":"o","x":-26.08,"y":0.29},{"s":"o","x":-26.04,"y":-0.34},{"s":"o","x":-26.06,"y":0.11},{"s":"o","x":-25.92,"y":0.05},{"s":"o","x":-25.82,"y":0.03},{"s":"o","x":-25.76,"y":-0.03},{"s":"o","x":-25.63,"y":0.06},{"s":"o","x":-25.5,"y":-1.3},{"s":"o","x":-25.44,"y":-0.05},{"s":"o","x":-25.37,"y":-0.45},{"s":"o","x":-25.36,"y":0.11},{"s":"o","x":-25.33,"y":-1.11},{"s":"o","x":-25.3,"y":0.16},{"s":"o","x":-25.23,"y":0.02},{"s":"o","x":-25.15,"y":-0.11},{"s":"o","x":-25.11,"y":0.14},{"s":"o","x":-25.06,"y":0.24},{"s":"o","x":-25.03,"y":-0.1},{"s":"o","x":-25.0,"y":0.11},
      {"s":"g","x":-46.14,"y":-0.16},{"s":"g","x":-46.01,"y":-0.02},{"s":"g","x":-45.98,"y":0.14},{"s":"g","x":-45.88,"y":0.31},{"s":"g","x":-45.78,"y":0.08},{"s":"g","x":-45.72,"y":0.16},{"s":"g","x":-45.68,"y":-0.05},{"s":"g","x":-45.74,"y":-0.16},{"s":"g","x":-36.74,"y":0.35},{"s":"g","x":-36.24,"y":0.6},{"s":"g","x":-36.24,"y":0.43},{"s":"g","x":-36.24,"y":0.27},{"s":"g","x":-36.22,"y":0.0},{"s":"g","x":-36.0,"y":0.06},{"s":"g","x":-33.76,"y":0.27},{"s":"g","x":-33.7,"y":0.3},{"s":"g","x":-33.74,"y":-0.1},{"s":"g","x":-33.62,"y":0.03},{"s":"g","x":-30.21,"y":-0.13},{"s":"g","x":-30.11,"y":0.14},{"s":"g","x":-30.0,"y":-0.02},{"s":"g","x":-29.83,"y":0.08},{"s":"g","x":-29.74,"y":0.14},{"s":"g","x":-29.69,"y":0.03},{"s":"g","x":-29.65,"y":-0.13},{"s":"g","x":-29.57,"y":-0.16},{"s":"g","x":-29.34,"y":-0.1},
      {"s":"p","x":-33.76,"y":1.64},{"s":"p","x":-33.75,"y":0.98},{"s":"p","x":-33.33,"y":1.3},{"s":"p","x":-32.83,"y":1.06},{"s":"p","x":-32.36,"y":1.16},{"s":"p","x":-31.95,"y":1.11},{"s":"p","x":-31.19,"y":1.27},{"s":"p","x":-31.11,"y":1.21},{"s":"p","x":-30.85,"y":1.34},{"s":"p","x":-30.73,"y":0.89},{"s":"p","x":-30.64,"y":1.06},{"s":"p","x":-29.98,"y":1.16},{"s":"p","x":-29.55,"y":0.98},{"s":"p","x":-29.45,"y":0.79}
    ],
    "rules": [
      {"name": "All GD1 Members", "v": 2.32},
      {"name": "Intrinsic Dispersion", "v": 0.62}
    ],
    "disp": [
      {"name": "Stream Members", "phi1": -45.85, "sigma": 2.86, "lo": 2.14, "hi": 4.05},
      {"name": "Stream Members", "phi1": -35.25, "sigma": 2.96, "lo": 2.27, "hi": 4.01},
      {"name": "Spur Members", "phi1": -33.0, "sigma": 0.8, "lo": 0.44, "hi": 1.4},
      {"name": "Spur Members", "phi1": -30.45, "sigma": 3.11, "lo": 2.28, "hi": 4.45},
      {"name": "Stream Members", "phi1": -29.8, "sigma": 2.35, "lo": 1.82, "hi": 3.12}
    ],
    "band": [
      {"x1": -50, "x2": -25, "lo": 2.05, "hi": 2.65}
    ]
  },
  "resolve": {"scale": {"color": "independent", "shape": "independent"}, "legend": {"color": "independent", "shape": "independent"}},
  "vconcat": [
    {
      "width": 1208,
      "height": 342,
      "data": {"name": "top"},
      "encoding": {
        "x": {"field": "x", "type": "quantitative", "scale": {"domain": [-50, -25], "nice": false, "zero": false},
              "axis": {"values": [-50, -45, -40, -35, -30, -25], "labels": false, "title": null}},
        "y": {"field": "y", "type": "quantitative", "scale": {"domain": [-10.77, 5.75], "nice": false, "zero": false},
              "axis": {"values": [-10, -8, -6, -4, -2, 0, 2, 4], "format": "d", "title": "ϕ₂ [deg]", "titleX": -54}},
        "color": {"field": "s", "type": "nominal",
                  "scale": {"domain": ["b", "o", "g", "p"], "range": ["#70b7f8", "#f49a1d", "#03a52f", "#bd00f2"]},
                  "legend": {"title": null, "orient": "none", "legendX": 8, "legendY": 231,
                             "labelExpr": "datum.value == 'b' ? 'All Candidate GD1 Members' : datum.value == 'o' ? 'Stream Track (Price-Whelan & Bonaca, 2018)' : datum.value == 'g' ? 'Stream Spectroscopic Members' : 'Spur Spectroscopic Members'",
                             "labelFontSize": 16.5, "symbolSize": 125, "symbolOffset": 10, "labelOffset": 20,
                             "rowPadding": 7.0, "padding": 6.6, "fillColor": "rgba(255,255,255,0.8)", "strokeColor": "#cccccc", "cornerRadius": 4, "symbolStrokeWidth": 0}},
        "shape": {"field": "s", "type": "nominal",
                  "scale": {"domain": ["b", "o", "g", "p"], "range": ["M-0.3,0A0.3,0.3 0 1,0 0.3,0A0.3,0.3 0 1,0 -0.3,0Z", "M-0.3,0A0.3,0.3 0 1,0 0.3,0A0.3,0.3 0 1,0 -0.3,0Z", "circle", "circle"]},
                  "legend": {"title": null, "orient": "none", "legendX": 8, "legendY": 231,
                             "labelExpr": "datum.value == 'b' ? 'All Candidate GD1 Members' : datum.value == 'o' ? 'Stream Track (Price-Whelan & Bonaca, 2018)' : datum.value == 'g' ? 'Stream Spectroscopic Members' : 'Spur Spectroscopic Members'",
                             "labelFontSize": 16.5, "symbolSize": 125, "symbolOffset": 10, "labelOffset": 20,
                             "rowPadding": 7.0, "padding": 6.6, "fillColor": "rgba(255,255,255,0.8)", "strokeColor": "#cccccc", "cornerRadius": 4, "symbolStrokeWidth": 0}}
      },
      "layer": [
        {
          "transform": [{"filter": "datum.s == 'b' || datum.s == 'o'"}],
          "mark": {"type": "point", "filled": true, "opacity": 1, "size": 115}
        },
        {
          "transform": [{"filter": "datum.s == 'g' || datum.s == 'p'"}],
          "mark": {"type": "point", "filled": true, "opacity": 1, "size": 44}
        }
      ]
    },
    {
      "width": 1208,
      "height": 341,
      "layer": [
        {
          "data": {"name": "band"},
          "mark": {"type": "rect", "color": "#fddfb6"},
          "encoding": {
            "x": {"field": "x1", "type": "quantitative", "scale": {"domain": [-50, -25], "nice": false, "zero": false},
                  "axis": {"values": [-50, -45, -40, -35, -30, -25], "format": "d", "title": "ϕ₁ [deg]", "titlePadding": 4}},
            "x2": {"field": "x2"},
            "y": {"field": "lo", "type": "quantitative", "scale": {"domain": [0.24, 4.67], "nice": false, "zero": false},
                  "axis": {"values": [0.5, 1, 1.5, 2, 2.5, 3, 3.5, 4, 4.5], "format": ".1f", "title": "Velocity Dispersion [km s⁻¹]", "titleX": -54}},
            "y2": {"field": "hi"}
          }
        },
        {
          "data": {"name": "rules"},
          "mark": {"type": "rule", "strokeWidth": 1.8},
          "encoding": {
            "y": {"field": "v", "type": "quantitative", "title": "Velocity Dispersion [km s⁻¹]"},
            "color": {"field": "name", "type": "nominal",
                      "scale": {"domain": ["All GD1 Members", "Intrinsic Dispersion", "Spur Members", "Stream Members"], "range": ["#fc9a1d", "#d3123d", "#bd00f2", "#03a52f"]},
                      "legend": {"title": null, "orient": "none", "legendX": 8, "legendY": 9, "direction": "horizontal", "columns": 4, "columnPadding": 31,
                                 "labelFontSize": 16.5, "symbolType": "circle", "symbolSize": 40, "symbolOffset": 13.5, "labelOffset": 18.5, "padding": 6,
                                 "fillColor": "rgba(255,255,255,0.8)", "strokeColor": "#cccccc", "cornerRadius": 4, "symbolStrokeWidth": 1.6,
                                 "encode": {"symbols": {"update": {
                                   "shape": {"signal": "datum.value == 'Spur Members' || datum.value == 'Stream Members' ? 'circle' : 'M-5.53,0L5.53,0'"},
                                   "size": {"value": 40},
                                   "stroke": {"signal": "datum.value == 'All GD1 Members' ? '#fc9a1d' : datum.value == 'Intrinsic Dispersion' ? '#d3123d' : datum.value == 'Spur Members' ? '#bd00f2' : '#03a52f'"},
                                   "fill": {"signal": "datum.value == 'All GD1 Members' ? '#fc9a1d' : datum.value == 'Intrinsic Dispersion' ? '#d3123d' : datum.value == 'Spur Members' ? '#bd00f2' : '#03a52f'"},
                                   "opacity": {"value": 1}
                                 }}}}}
          }
        },
        {
          "data": {"name": "disp"},
          "mark": {"type": "rule", "strokeWidth": 1.8},
          "encoding": {
            "x": {"field": "phi1", "type": "quantitative", "title": "ϕ₁ [deg]"},
            "y": {"field": "lo", "type": "quantitative", "title": "Velocity Dispersion [km s⁻¹]"},
            "y2": {"field": "hi"},
            "color": {"field": "name", "type": "nominal"}
          }
        },
        {
          "data": {"name": "disp"},
          "mark": {"type": "point", "filled": true, "size": 60, "opacity": 1},
          "encoding": {
            "x": {"field": "phi1", "type": "quantitative", "title": "ϕ₁ [deg]"},
            "y": {"field": "sigma", "type": "quantitative", "title": "Velocity Dispersion [km s⁻¹]"},
            "color": {"field": "name", "type": "nominal"}
          }
        }
      ]
    }
  ]
}
